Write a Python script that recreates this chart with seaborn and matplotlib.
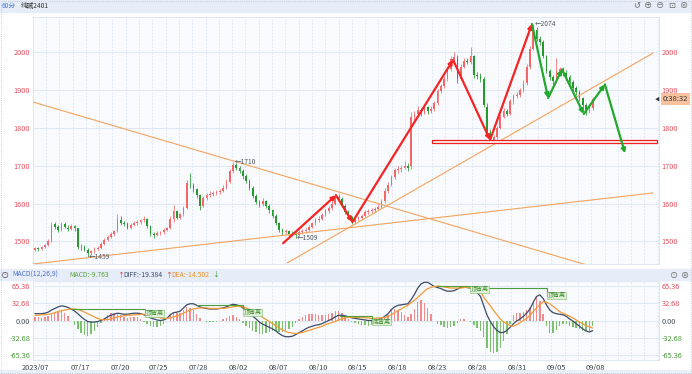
import numpy as np
import pandas as pd
import matplotlib
matplotlib.use('Agg')
import matplotlib.pyplot as plt
from matplotlib.patches import Rectangle
import seaborn as sns

# 60-minute bars, soda ash 2401
opens = [1478, 1482, 1479, 1484, 1490, 1500, 1545, 1538, 1530, 1545,
         1536, 1532, 1540, 1534, 1486, 1484, 1478, 1470, 1474, 1480,
         1483, 1494, 1503, 1512, 1520, 1526, 1556, 1548, 1546, 1536,
         1544, 1549, 1551, 1556, 1560, 1540, 1520, 1517, 1522, 1525,
         1530, 1534, 1558, 1580, 1563, 1572, 1588, 1650, 1648, 1638,
         1622, 1594, 1614, 1622, 1626, 1628, 1630, 1634, 1642, 1658,
         1685, 1703, 1694, 1686, 1672, 1660, 1642, 1620, 1604, 1598,
         1606, 1594, 1582, 1568, 1548, 1530, 1524, 1526, 1520, 1519,
         1517, 1524, 1527, 1530, 1538, 1548, 1556, 1560, 1570, 1580,
         1588, 1600, 1617, 1612, 1594, 1578, 1565, 1550, 1558, 1563,
         1568, 1577, 1580, 1583, 1585, 1592, 1606, 1633, 1650, 1670,
         1688, 1690, 1695, 1700, 1698, 1830, 1836, 1848, 1840, 1854,
         1845, 1851, 1865, 1898, 1910, 1930, 1955, 1982, 1985, 1930,
         1962, 1978, 1975, 1990, 1940, 1938, 1930, 1855, 1790, 1768,
         1775, 1800, 1830, 1845, 1838, 1870, 1885, 1888, 1900, 1918,
         1960, 2010, 2060, 2036, 2028, 1990, 1950, 1935, 1925, 1950,
         1955, 1945, 1935, 1922, 1905, 1895, 1878, 1860, 1845, 1852]
highs = [1486, 1485, 1488, 1494, 1505, 1550, 1550, 1542, 1552, 1550,
         1542, 1546, 1544, 1536, 1492, 1490, 1482, 1478, 1485, 1488,
         1498, 1508, 1516, 1524, 1530, 1572, 1566, 1555, 1550, 1548,
         1554, 1556, 1560, 1566, 1563, 1544, 1524, 1526, 1528, 1534,
         1538, 1566, 1596, 1584, 1576, 1594, 1662, 1680, 1654, 1642,
         1626, 1620, 1628, 1632, 1634, 1636, 1638, 1648, 1664, 1690,
         1710, 1706, 1700, 1690, 1678, 1664, 1646, 1626, 1610, 1614,
         1610, 1598, 1586, 1572, 1552, 1535, 1532, 1530, 1528, 1524,
         1530, 1532, 1536, 1544, 1552, 1562, 1566, 1576, 1586, 1594,
         1606, 1626, 1624, 1616, 1598, 1582, 1568, 1562, 1568, 1572,
         1582, 1586, 1588, 1590, 1598, 1612, 1640, 1656, 1676, 1694,
         1698, 1702, 1712, 1706, 1842, 1845, 1858, 1852, 1862, 1858,
         1858, 1872, 1904, 1916, 1938, 1962, 1990, 2000, 1992, 1968,
         1985, 1984, 2015, 1994, 1948, 1944, 1934, 1866, 1796, 1782,
         1806, 1836, 1852, 1850, 1876, 1890, 1896, 1906, 1926, 1968,
         2018, 2074, 2066, 2044, 2032, 1994, 1956, 1940, 1985, 1962,
         1960, 1952, 1940, 1928, 1910, 1900, 1882, 1866, 1860, 1882]
lows = [1474, 1474, 1477, 1482, 1488, 1498, 1533, 1525, 1528, 1534,
        1528, 1530, 1528, 1480, 1478, 1474, 1459, 1464, 1470, 1476,
        1480, 1490, 1500, 1508, 1514, 1524, 1544, 1540, 1532, 1532,
        1540, 1543, 1546, 1552, 1536, 1514, 1510, 1513, 1516, 1520,
        1526, 1532, 1552, 1558, 1560, 1568, 1585, 1640, 1630, 1615,
        1584, 1590, 1608, 1616, 1620, 1622, 1626, 1630, 1638, 1655,
        1680, 1688, 1680, 1666, 1654, 1636, 1614, 1598, 1590, 1594,
        1588, 1576, 1562, 1542, 1524, 1518, 1520, 1514, 1514, 1509,
        1514, 1520, 1522, 1526, 1534, 1544, 1550, 1556, 1566, 1576,
        1584, 1596, 1606, 1590, 1572, 1560, 1545, 1547, 1554, 1558,
        1564, 1572, 1575, 1578, 1582, 1588, 1602, 1628, 1646, 1666,
        1680, 1684, 1690, 1686, 1692, 1822, 1830, 1832, 1836, 1838,
        1840, 1846, 1860, 1892, 1905, 1925, 1950, 1975, 1920, 1926,
        1958, 1968, 1970, 1932, 1930, 1922, 1855, 1784, 1760, 1762,
        1770, 1796, 1825, 1832, 1834, 1864, 1878, 1882, 1895, 1914,
        1955, 2005, 2030, 2020, 1984, 1944, 1926, 1905, 1920, 1944,
        1938, 1928, 1916, 1898, 1888, 1872, 1852, 1835, 1840, 1848]
closes = [1482, 1479, 1484, 1490, 1500, 1542, 1538, 1530, 1545, 1538,
          1532, 1540, 1534, 1486, 1484, 1478, 1470, 1474, 1480, 1483,
          1494, 1503, 1512, 1520, 1526, 1560, 1548, 1546, 1536, 1544,
          1549, 1551, 1556, 1560, 1540, 1520, 1517, 1522, 1525, 1530,
          1534, 1558, 1580, 1563, 1572, 1588, 1655, 1648, 1638, 1622,
          1594, 1614, 1622, 1626, 1628, 1630, 1634, 1642, 1658, 1685,
          1703, 1694, 1686, 1672, 1660, 1642, 1620, 1604, 1598, 1606,
          1594, 1582, 1568, 1548, 1530, 1524, 1526, 1520, 1519, 1517,
          1524, 1527, 1530, 1538, 1548, 1556, 1560, 1570, 1580, 1588,
          1600, 1617, 1612, 1594, 1578, 1565, 1550, 1558, 1563, 1568,
          1577, 1580, 1583, 1585, 1592, 1606, 1633, 1650, 1670, 1688,
          1690, 1695, 1700, 1694, 1830, 1836, 1848, 1840, 1854, 1845,
          1851, 1865, 1898, 1910, 1930, 1955, 1982, 1988, 1930, 1962,
          1978, 1975, 1990, 1940, 1938, 1930, 1860, 1790, 1768, 1775,
          1800, 1830, 1845, 1838, 1870, 1885, 1888, 1900, 1918, 1960,
          2010, 2060, 2036, 2028, 1990, 1950, 1935, 1925, 1950, 1955,
          1945, 1935, 1922, 1905, 1895, 1878, 1860, 1845, 1852, 1877]

# MACD(12,26,9)
diff = [13, 13, 13, 14, 16, 20, 23, 26, 28, 27,
        25, 22, 18, 13, 7, 2, -2, -3, -3, -2,
        0, 3, 7, 10, 12, 14, 13, 12, 12, 13,
        14, 14, 13, 11, 8, 5, 3, 1, 0, 1,
        4, 11, 15, 16, 18, 24, 30, 32, 32, 29,
        26, 24, 23, 22, 22, 22, 23, 24, 26, 29,
        31, 30, 28, 24, 19, 14, 8, 3, -3, -7,
        -10, -13, -16, -20, -25, -29, -31, -31, -30, -27,
        -23, -20, -16, -13, -11, -9, -8, -6, -3, 0,
        3, 7, 10, 10, 9, 7, 5, 4, 3, 2,
        1, 0, 0, 0, 2, 4, 8, 13, 21, 26,
        29, 30, 31, 32, 40, 50, 62, 70, 73, 73,
        69, 65, 63, 61, 58, 56, 56, 57, 60, 63,
        64, 63, 62, 58, 53, 46, 28, 10, -2, -12,
        -19, -23, -23, -19, -13, -6, -1, 3, 8, 14,
        22, 35, 46, 49, 42, 30, 20, 15, 13, 12,
        11, 8, 3, -1, -6, -11, -16, -20, -22, -19.384]
dea = [10, 10, 11, 11, 12, 13, 15, 17, 19, 20,
       21, 22, 22, 21, 19, 16, 13, 10, 7, 4,
       2, 1, 2, 3, 5, 7, 8, 9, 10, 10,
       11, 11, 12, 12, 11, 10, 9, 7, 5, 4,
       4, 5, 7, 9, 11, 14, 17, 20, 22, 23,
       24, 24, 24, 23, 23, 23, 23, 23, 24, 25,
       26, 27, 27, 26, 24, 21, 18, 14, 10, 6,
       2, -2, -6, -10, -14, -18, -21, -23, -24, -25,
       -24, -23, -21, -19, -17, -15, -13, -11, -8, -6,
       -4, -2, 1, 3, 5, 6, 6, 6, 6, 6,
       5, 5, 4, 4, 5, 5, 6, 8, 11, 15,
       19, 22, 26, 29, 34, 39, 44, 50, 56, 61,
       63, 65, 66, 65, 64, 63, 62, 62, 62, 62,
       63, 63, 63, 62, 60, 56, 44, 36, 28, 19,
       11, 3, -3, -6, -10, -11, -8, -4, 0, 4,
       10, 17, 24, 30, 36, 35, 32, 27, 22, 17,
       14, 11, 8, 5, 1, -3, -6, -10, -12, -14.502]
macd_hist = [6, 6, 4, 6, 8, 14, 16, 18, 18, 14,
             8, 0, -8, -16, -24, -28, -30, -26, -20, -12,
             -4, 4, 10, 14, 14, 14, 10, 6, 4, 6,
             6, 6, 2, -2, -6, -10, -12, -12, -10, -6,
             0, 12, 16, 14, 14, 20, 26, 24, 20, 12,
             4, 0, -2, -2, -2, -2, 0, 2, 4, 8,
             10, 6, 2, -4, -10, -14, -20, -22, -26, -26,
             -24, -22, -20, -20, -22, -22, -20, -16, -12, -4,
             2, 6, 10, 12, 12, 12, 10, 10, 10, 12,
             14, 18, 18, 14, 8, 2, -2, -4, -6, -8,
             -8, -10, -8, -8, -6, -2, 4, 10, 20, 22,
             20, 16, 10, 6, 12, 22, 36, 40, 34, 24,
             12, 0, -6, -8, -12, -14, -12, -10, -4, 2,
             2, 0, -2, -8, -14, -20, -32, -52, -60, -62,
             -60, -52, -40, -26, -6, 10, 14, 14, 16, 20,
             24, 36, 44, 38, 12, -10, -24, -24, -18, -10,
             -6, -6, -10, -12, -14, -16, -20, -20, -20, -9.763]

date_labels = ['2023/07', '07/17', '07/20', '07/25', '07/28', '08/02', '08/07',
               '08/10', '08/15', '08/18', '08/23', '08/28', '08/31', '09/05', '09/08']
date_bar = [0, 13.6, 25.8, 37.3, 49.4, 61.5, 73.6, 85.8, 97.6, 109.7,
            121.8, 133.9, 146.1, 157.9, 169.7]
price_ticks = [1500, 1600, 1700, 1800, 1900, 2000]
macd_ticks = [65.36, 32.68, 0, -32.68, -65.36]

# extremes marked on the chart: (bar, 'high'/'low')
marked = [(16, 'low'), (60, 'high'), (79, 'low'), (151, 'high')]

# hand-drawn studies (bar index, price)
trend_lines = [((-1, 1869.5), (190, 1379)),
               ((-1, 1439.6), (187.3, 1628)),
               ((76.4, 1442.6), (187.3, 1998))]
red_path = [(75.2, 1495), (91.2, 1622), (96.2, 1551), (126.7, 1980),
            (137.9, 1768), (150.6, 2075)]
green_path = [(150.6, 2075), (155.5, 1879), (159.7, 1955), (166.3, 1837),
              (172.7, 1915), (178.8, 1733)]
red_band = (120.3, 188.5, 1760, 1769)

# divergence marks on the MACD pane: polyline, label, label anchor
div_marks = [([(11.2, 22), (33.3, 22), (33.3, 14)], '顶背离', (33.6, 14)),
             ([(49.1, 29.6), (63, 29.6), (63, 20)], '顶背离', (63.2, 16)),
             ([(92.4, 8.6), (102.1, 8.6), (102.1, 1)], '底背离', (102.3, -3)),
             ([(121.8, 66), (131.8, 66)], '顶背离', (131.9, 60)),
             ([(134.8, 61.2), (155.2, 61.2), (155.2, 47)], '顶背离', (155.4, 48.5))]

UP, DOWN = '#f26868', '#23992e'
W, H = 692, 374

sns.set_theme(style='white')
plt.rcParams['font.family'] = ['Noto Sans CJK SC', 'DejaVu Sans']


def px_box(x0, y0, x1, y1):
    return [x0 / W, 1 - y1 / H, (x1 - x0) / W, (y1 - y0) / H]


def ftext(x, y, s, **kw):
    kw.setdefault('fontsize', 5.3)
    kw.setdefault('va', 'center')
    fig.text(x / W, 1 - y / H, s, **kw)


fig = plt.figure(figsize=(6.92, 3.74), dpi=100)
fig.patch.set_facecolor('white')
for (x0, y0, x1, y1, col) in [(0, 0, 692, 12, '#e6edf8'), (0, 269, 692, 280, '#e6edf8'),
                              (0, 370, 692, 374, '#e9eff8')]:
    fig.patches.append(Rectangle((x0 / W, 1 - y1 / H), (x1 - x0) / W, (y1 - y0) / H,
                                 transform=fig.transFigure, color=col, zorder=0))
fig.patches.append(Rectangle((0.002, 0.002), 0.996, 0.996, transform=fig.transFigure,
                             fill=False, ec='#b8bcc4', lw=0.6, ls=':', zorder=5))

ax = fig.add_axes(px_box(33, 17, 659, 264))
axm = fig.add_axes(px_box(33, 281, 659, 360))

grid_x = np.arange(3.33, 190, 4.03)
for a in (ax, axm):
    a.set_facecolor('#f8fafe')
    for s in a.spines.values():
        s.set_color('#dbe3ef')
        s.set_linewidth(0.6)
    a.set_xlim(-0.6, 189.1)
    a.set_xticks(grid_x, minor=True)
    a.grid(which='minor', axis='x', color='#d7e1f0', lw=0.6, ls=(0, (2, 2)))
    a.grid(which='major', axis='y', color='#dce5f3', lw=0.6)
    a.tick_params(which='minor', length=0)
    a.set_axisbelow(True)

# candlesticks
o, h, l, c = (np.array(v, dtype=float) for v in (opens, highs, lows, closes))
x = np.arange(len(c))
cols = np.where(c >= o, UP, DOWN)
ax.vlines(x, l, h, colors=cols, lw=0.55, zorder=3)
ax.bar(x, np.maximum(np.abs(c - o), 1.5), bottom=np.minimum(o, c), width=0.52,
       color=cols, lw=0, zorder=3)
ax.set_ylim(1440, 2093.4)
ax.set_xticks([])
ax.set_yticks(price_ticks)
ax.tick_params(axis='y', labelleft=True, labelright=True, length=0, pad=2,
               labelsize=5.3, labelcolor='#e5505f')

for bar, kind in marked:
    yv = lows[bar] if kind == 'low' else highs[bar]
    ax.text(bar + 0.4, yv, '\u2190' + str(yv), fontsize=4.8, color='#555a66',
            va='center', ha='left', zorder=6)

for (p0, p1) in trend_lines:
    ax.plot([p0[0], p1[0]], [p0[1], p1[1]], color='#f3a45c', lw=0.8, zorder=4)

x0b, x1b, y0b, y1b = red_band
ax.add_patch(Rectangle((x0b, y0b), x1b - x0b, y1b - y0b, fc='#fff4f4', ec='#f02020',
                       lw=0.9, zorder=5))

for path, col in [(red_path, '#f42424'), (green_path, '#22a82a')]:
    for p0, p1 in zip(path[:-1], path[1:]):
        ax.annotate('', xy=p1, xytext=p0, zorder=6,
                    arrowprops=dict(arrowstyle='-|>', color=col, lw=1.6,
                                    mutation_scale=6, shrinkA=0, shrinkB=0))

# MACD pane
df = pd.DataFrame({'bar': x, 'DIFF': diff, 'DEA': dea, 'MACD': macd_hist})
hist_cols = np.where(df['MACD'] >= 0, '#f08c8c', '#7cc26c')
axm.bar(df['bar'], df['MACD'], width=0.42, color=hist_cols, lw=0, zorder=2)
sns.lineplot(data=df, x='bar', y='DIFF', ax=axm, color='#3d4a66', lw=0.9, zorder=4)
sns.lineplot(data=df, x='bar', y='DEA', ax=axm, color='#f39a35', lw=0.9, zorder=4)
axm.set_ylim(-75.5, 75.5)
axm.set_xlabel('')
axm.set_ylabel('')
axm.set_yticks(macd_ticks, labels=['%.2f' % v for v in macd_ticks])
axm.tick_params(axis='y', labelleft=True, labelright=True, length=0, pad=2, labelsize=5.3)
for t, v in zip(axm.yaxis.get_major_ticks(), macd_ticks):
    col = '#e5505f' if v > 0 else ('#4a9a3a' if v < 0 else '#444b57')
    t.label1.set_color(col)
    t.label2.set_color(col)
axm.set_xticks(date_bar, labels=date_labels)
axm.tick_params(axis='x', which='major', length=2, width=0.6, color='#9aa3b0', pad=0.6,
                labelsize=5.3, labelcolor='#333a44')

for pts, lab, (lx, ly) in div_marks:
    axm.plot([p[0] for p in pts], [p[1] for p in pts], color='#4e9e3e', lw=0.8, zorder=5)
    axm.text(lx, ly, lab, fontsize=4.3, color='#3c8c30', va='center', ha='left', zorder=6,
             bbox=dict(fc='#dff0d6', ec='#7cbc6c', lw=0.4, pad=0.3))

# headers and right-side widgets
ftext(2, 6, '60分', color='#4a7fd6', fontsize=4.8)
ftext(21, 6, '纯碱2401', color='#333', fontsize=4.8)
for xi, s in zip([637, 648, 660, 672, 684], ['\u21ba', '\u2295', '\u2296', '\u22a1', '\u2297']):
    ftext(xi, 6, s, color='#666', fontsize=6, ha='center')

hdr = 4.9
ftext(5, 275, '\u2299', color='#445', fontsize=6, ha='center')
ftext(12, 275, 'MACD(12,26,9)', color='#4a70c8', fontsize=hdr)
ftext(69, 275, 'MACD:-9.763', color='#5a9e3c', fontsize=hdr)
ftext(117, 275, '\u2191', color='#e03030', fontsize=hdr)
ftext(123, 275, 'DIFF:-19.384', color='#3c4a66', fontsize=hdr)
ftext(165, 275, '\u2191', color='#e03030', fontsize=hdr)
ftext(171, 275, 'DEA:-14.502', color='#e8902a', fontsize=hdr)
ftext(212, 275, '\u2193', color='#2a9a2a', fontsize=hdr)
for xi, s in zip([674, 685], ['\u2299', '\u2297']):
    ftext(xi, 275, s, color='#666', fontsize=6, ha='center')

ftext(663, 99, '0:38:32', color='#333', fontsize=5.5,
      bbox=dict(fc='#f9c29f', ec='none', pad=1.3))
ftext(657, 99, '\u25c0', color='#333', fontsize=3.5, ha='center')

fig.savefig('out.png', dpi=100)
